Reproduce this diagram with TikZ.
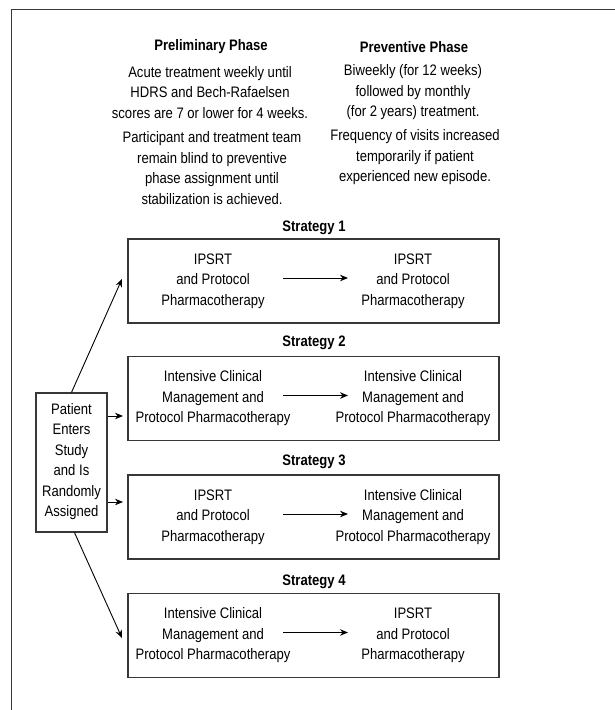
\documentclass[tikz,border=0pt]{standalone}
\usepackage{fontspec}
\setmainfont[FakeStretch=0.86]{Liberation Sans}
\usetikzlibrary{positioning, arrows.meta}
\definecolor{framegray}{RGB}{55,55,55}

\begin{document}
\begin{tikzpicture}[x=1pt, y=-1pt, line width=1pt,
        txt/.style={align=center, inner sep=0pt, font=\fontsize{15.2}{20.5}\selectfont},
        head/.style={align=center, inner sep=0pt, font=\fontsize{15.2}{20.5}\selectfont\bfseries},
        stratbox/.style={rectangle, draw=framegray, line width=1.3pt, minimum width=371pt, minimum height=84pt, inner sep=0pt},
        arr/.style={-{Stealth[length=8pt, width=6.5pt]}, line width=0.9pt}]
    \useasboundingbox (0,0) rectangle (615,710);
    \draw[framegray, line width=1.6pt] (11.5,710) -- (11.5,9.5) -- (615,9.5);

    % phase headers
    \node[head] (prelim) at (211,47) {Preliminary Phase};
    \node[txt] (prelimA) at (210,92.5) {Acute treatment weekly until\\HDRS and Bech-Rafaelsen\\scores are 7 or lower for 4 weeks.};
    \node[txt] (prelimB) at (212,168) {Participant and treatment team\\remain blind to preventive\\phase assignment until\\stabilization is achieved.};
    \node[head] (prevent) at (414,47) {Preventive Phase};
    \node[txt] (preventA) at (413,92.5) {Biweekly (for 12 weeks)\\followed by monthly\\(for 2 years) treatment.};
    \node[txt] (preventB) at (415,157.5) {Frequency of visits increased\\temporarily if patient\\experienced new episode.};

    % strategies
    \node[stratbox] (s1) at (313.5,281) {};
    \node[head] (s1lab) at (314,228) {Strategy 1};
    \node[txt] (s1a) at (213,281) {IPSRT\\and Protocol\\Pharmacotherapy};
    \node[txt] (s1b) at (413,281) {IPSRT\\and Protocol\\Pharmacotherapy};

    \node[stratbox] (s2) at (313.5,398.5) {};
    \node[head] (s2lab) at (314,343) {Strategy 2};
    \node[txt] (s2a) at (213,398.5) {Intensive Clinical\\Management and\\Protocol Pharmacotherapy};
    \node[txt] (s2b) at (413,398.5) {Intensive Clinical\\Management and\\Protocol Pharmacotherapy};

    \node[stratbox] (s3) at (313.5,517) {};
    \node[head] (s3lab) at (314,462) {Strategy 3};
    \node[txt] (s3a) at (213,517) {IPSRT\\and Protocol\\Pharmacotherapy};
    \node[txt] (s3b) at (413,517) {Intensive Clinical\\Management and\\Protocol Pharmacotherapy};

    \node[stratbox] (s4) at (313.5,635.5) {};
    \node[head] (s4lab) at (314,582) {Strategy 4};
    \node[txt] (s4a) at (213,635.5) {Intensive Clinical\\Management and\\Protocol Pharmacotherapy};
    \node[txt] (s4b) at (413,635.5) {IPSRT\\and Protocol\\Pharmacotherapy};

    \foreach \s in {1,2,3,4}
        \draw[arr] ([xshift=-30.5pt, yshift=3pt]s\s.center) -- ([xshift=34.5pt, yshift=3pt]s\s.center);

    % patient
    \node[rectangle, draw=framegray, line width=1.2pt, minimum width=71pt, minimum height=139pt, inner sep=0pt] (patient) at (71.5,462.5) {};
    \node[txt] (patienttxt) at (71.5,461.5) {Patient\\Enters\\Study\\and Is\\Randomly\\Assigned};

    \coordinate (in1) at (122,279);
    \coordinate (in2) at (123,416);
    \coordinate (in3) at (123,502);
    \coordinate (in4) at (122,638);
    \draw[arr] (patient.north) -- (in1);
    \draw[arr] (patient.east |- in2) -- (in2);
    \draw[arr] (patient.east |- in3) -- (in3);
    \draw[arr] ([xshift=3pt]patient.south) -- (in4);
\end{tikzpicture}
\end{document}
